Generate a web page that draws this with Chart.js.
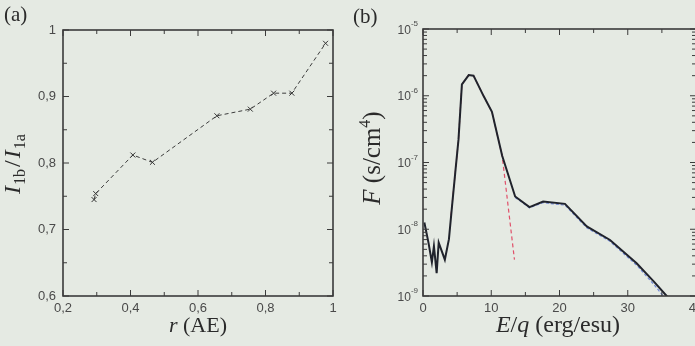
<!DOCTYPE html>
<html>
<head>
<meta charset="utf-8">
<script src="https://cdn.jsdelivr.net/npm/chart.js@4.4.0/dist/chart.umd.min.js"></script>
<style>
html, body { margin: 0; padding: 0; width: 695px; height: 346px; overflow: hidden; background: #e5eae3; }
#chartA { position: absolute; left: 0; top: 0; }
#chartB { position: absolute; left: 350px; top: 0; }
</style>
</head>
<body>
<canvas id="chartA" width="350" height="346"></canvas>
<canvas id="chartB" width="360" height="346"></canvas>
<script>
// panel (a): intensity ratio vs. distance
const radius = [0.292, 0.297, 0.407, 0.465, 0.656, 0.755, 0.824, 0.878, 0.978];
const intensityRatio = [0.745, 0.754, 0.812, 0.801, 0.871, 0.881, 0.905, 0.905, 0.980];
const radiusTicks = [0.2, 0.3, 0.4, 0.5, 0.6, 0.7, 0.8, 0.9, 1.0];
const radiusTickLabels = ['0,2', '', '0,4', '', '0,6', '', '0,8', '', '1'];
const ratioTicks = [0.6, 0.65, 0.7, 0.75, 0.8, 0.85, 0.9, 0.95, 1.0];
const ratioTickLabels = ['0,6', '', '0,7', '', '0,8', '', '0,9', '', '1'];

// panel (b): spectrum
const energy = [0.2, 0.8, 1.3, 1.6, 2.0, 2.3, 3.2, 3.8, 4.25, 4.73, 5.2, 5.7, 6.7, 7.4, 8.9, 10.1, 11.6, 13.5, 15.6, 17.6, 20.8, 24.0, 27.4, 31.3, 33.8, 35.7, 36.4];
const flux = [1.26e-8, 6.3e-9, 3.2e-9, 5.6e-9, 2.2e-9, 6.3e-9, 3.5e-9, 7.1e-9, 2.2e-8, 7.1e-8, 2.2e-7, 1.48e-6, 2.04e-6, 2.0e-6, 9.8e-7, 5.75e-7, 1.26e-7, 3.1e-8, 2.15e-8, 2.6e-8, 2.4e-8, 1.1e-8, 6.9e-9, 3.1e-9, 1.66e-9, 1.0e-9, 8.0e-10];
const fitEnergy = [4.1, 4.73, 5.2, 5.7, 6.7, 7.4, 8.9, 10.1, 11.6, 13.4];
const fitFlux = [1.6e-8, 7.1e-8, 2.2e-7, 1.48e-6, 2.04e-6, 2.0e-6, 9.8e-7, 5.75e-7, 1.26e-7, 3.5e-9];
const modelEnergy = [13.5, 15.6, 17.6, 20.8, 24.0, 27.4, 31.3, 33.8, 35.2];
const modelFlux = [3.0e-8, 2.1e-8, 2.5e-8, 2.3e-8, 1.05e-8, 6.6e-9, 2.9e-9, 1.5e-9, 1.0e-9];
const energyTicks = [0, 5, 10, 15, 20, 25, 30, 35, 40];
const energyTickLabels = ['0', '', '10', '', '20', '', '30', '', '40'];
const fluxTickExps = [-9, -8, -7, -6, -5];

const serif = '"Liberation Serif", "Times New Roman", serif';
const sans = '"Liberation Sans", Arial, sans-serif';
const ink = '#2b2b2b';
const tickFont = { family: sans, size: 13 };
const tickColor = '#4a4a4a';

function pts(xs, ys) {
    return xs.map(function(x, i) { return { x: x, y: ys[i] }; });
}

function drawRuns(ctx, runs, cx, y) {
    var w = 0;
    runs.forEach(function(r) { ctx.font = r.font; w += (r.dx || 0) + ctx.measureText(r.text).width; });
    var x = cx - w / 2;
    runs.forEach(function(r) {
        ctx.font = r.font;
        x += r.dx || 0;
        ctx.fillText(r.text, x, y + (r.dy || 0));
        x += ctx.measureText(r.text).width;
    });
}

// frame box and inward tick marks on all four sides
const framePlugin = {
    id: 'frame',
    afterDatasetsDraw(chart, args, opts) {
        const ctx = chart.ctx, a = chart.chartArea;
        ctx.save();
        ctx.strokeStyle = '#3b3b3b';
        ctx.lineWidth = 1;
        ctx.beginPath();
        opts.xTicks.forEach(function(t) {
            const x = chart.scales.x.getPixelForValue(t.v);
            const len = t.major ? 6 : 4;
            ctx.moveTo(x, a.bottom); ctx.lineTo(x, a.bottom - len);
            ctx.moveTo(x, a.top); ctx.lineTo(x, a.top + len);
        });
        opts.yTicks.forEach(function(t) {
            const y = chart.scales.y.getPixelForValue(t.v);
            const len = t.major ? 6 : 4;
            ctx.moveTo(a.left, y); ctx.lineTo(a.left + len, y);
            ctx.moveTo(a.right, y); ctx.lineTo(a.right - len, y);
        });
        ctx.stroke();
        ctx.lineWidth = 1.6;
        ctx.strokeRect(a.left, a.top, a.right - a.left, a.bottom - a.top);
        ctx.restore();
    }
};

// ---- panel (a)
new Chart(document.getElementById('chartA'), {
    type: 'scatter',
    data: {
        datasets: [{
            data: pts(radius, intensityRatio),
            showLine: true,
            borderColor: '#3c3c3c',
            borderWidth: 1,
            borderDash: [4, 3],
            pointStyle: 'crossRot',
            pointRadius: 3.5,
            pointBorderColor: '#333',
            pointBorderWidth: 1
        }]
    },
    options: {
        responsive: false,
        animation: false,
        layout: { padding: { left: 0, right: 17, top: 30, bottom: 0 } },
        plugins: {
            legend: { display: false },
            tooltip: { enabled: false },
            frame: {
                xTicks: radiusTicks.map(function(v, i) { return { v: v, major: radiusTickLabels[i] !== '' }; }),
                yTicks: ratioTicks.map(function(v, i) { return { v: v, major: ratioTickLabels[i] !== '' }; })
            }
        },
        scales: {
            x: {
                type: 'linear', min: 0.2, max: 1,
                afterBuildTicks: function(s) { s.ticks = radiusTicks.map(function(v) { return { value: v }; }); },
                afterFit: function(s) { s.height = 50; },
                grid: { display: false, drawTicks: false },
                border: { display: false },
                ticks: { autoSkip: false, maxRotation: 0, padding: 5, font: tickFont, color: tickColor,
                    callback: function(v, i) { return radiusTickLabels[i]; } }
            },
            y: {
                type: 'linear', min: 0.6, max: 1,
                afterBuildTicks: function(s) { s.ticks = ratioTicks.map(function(v) { return { value: v }; }); },
                afterFit: function(s) { s.width = 63; },
                grid: { display: false, drawTicks: false },
                border: { display: false },
                ticks: { autoSkip: false, padding: 7, font: tickFont, color: tickColor,
                    callback: function(v, i) { return ratioTickLabels[i]; } }
            }
        }
    },
    plugins: [framePlugin, {
        id: 'titlesA',
        afterDraw(chart) {
            const ctx = chart.ctx;
            ctx.save();
            ctx.fillStyle = ink;
            ctx.textAlign = 'left';
            ctx.textBaseline = 'alphabetic';
            ctx.font = '21px ' + serif;
            ctx.fillText('(a)', 4, 21);
            drawRuns(ctx, [
                { text: 'r', font: 'italic 22px ' + serif },
                { text: ' (AE)', font: '22px ' + serif }
            ], 198, 332);
            ctx.translate(20, 164);
            ctx.rotate(-Math.PI / 2);
            drawRuns(ctx, [
                { text: 'I', font: 'italic 24px ' + serif },
                { text: '1b', font: '16px ' + serif, dy: 5, dx: 1 },
                { text: '/', font: '24px ' + serif, dx: 2 },
                { text: 'I', font: 'italic 24px ' + serif, dx: 2 },
                { text: '1a', font: '16px ' + serif, dy: 5, dx: 1 }
            ], 0, 0);
            ctx.restore();
        }
    }]
});

// ---- panel (b)
const fluxMinor = [];
fluxTickExps.forEach(function(e) {
    for (var k = 1; k <= 9; k++) {
        if (e === -5 && k > 1) break;
        fluxMinor.push({ v: k * Math.pow(10, e), major: k === 1 });
    }
});

new Chart(document.getElementById('chartB'), {
    type: 'scatter',
    data: {
        datasets: [{
            data: pts(energy, flux),
            showLine: true,
            borderColor: '#20232c',
            borderWidth: 2,
            pointRadius: 0,
            order: 0
        }, {
            data: pts(modelEnergy, modelFlux),
            showLine: true,
            borderColor: '#6f86d6',
            borderWidth: 1.2,
            borderDash: [3, 2],
            pointRadius: 0,
            order: 1
        }, {
            data: pts(fitEnergy, fitFlux),
            showLine: true,
            borderColor: '#e0506a',
            borderWidth: 1.2,
            borderDash: [4, 3],
            pointRadius: 0,
            order: 2
        }]
    },
    options: {
        responsive: false,
        animation: false,
        layout: { padding: { left: 0, right: 14, top: 29, bottom: 0 } },
        plugins: {
            legend: { display: false },
            tooltip: { enabled: false },
            frame: {
                xTicks: energyTicks.map(function(v, i) { return { v: v, major: energyTickLabels[i] !== '' }; }),
                yTicks: fluxMinor
            }
        },
        scales: {
            x: {
                type: 'linear', min: 0, max: 40,
                afterBuildTicks: function(s) { s.ticks = energyTicks.map(function(v) { return { value: v }; }); },
                afterFit: function(s) { s.height = 50; },
                grid: { display: false, drawTicks: false },
                border: { display: false },
                ticks: { autoSkip: false, maxRotation: 0, padding: 5, font: tickFont, color: tickColor,
                    callback: function(v, i) { return energyTickLabels[i]; } }
            },
            y: {
                type: 'logarithmic', min: 1e-9, max: 1e-5,
                afterBuildTicks: function(s) { s.ticks = fluxTickExps.map(function(e) { return { value: Math.pow(10, e) }; }); },
                afterFit: function(s) { s.width = 73; },
                grid: { display: false, drawTicks: false },
                border: { display: false },
                ticks: { display: false }
            }
        }
    },
    plugins: [framePlugin, {
        id: 'titlesB',
        afterDraw(chart) {
            const ctx = chart.ctx, ys = chart.scales.y;
            ctx.save();
            ctx.fillStyle = tickColor;
            ctx.textBaseline = 'alphabetic';
            fluxTickExps.forEach(function(e) {
                const y = ys.getPixelForValue(Math.pow(10, e));
                ctx.font = '8px ' + sans;
                const sup = '-' + Math.abs(e);
                const sw = ctx.measureText(sup).width;
                ctx.textAlign = 'left';
                ctx.fillText(sup, 68 - sw, y - 3);
                ctx.textAlign = 'right';
                ctx.font = '12px ' + sans;
                ctx.fillText('10', 68 - sw, y + 4.5);
            });
            ctx.fillStyle = ink;
            ctx.textAlign = 'left';
            ctx.font = '21px ' + serif;
            ctx.fillText('(b)', 3, 23);
            drawRuns(ctx, [
                { text: 'E', font: 'italic 24px ' + serif },
                { text: '/', font: '24px ' + serif },
                { text: 'q', font: 'italic 24px ' + serif },
                { text: ' (erg/esu)', font: '24px ' + serif }
            ], 208, 332);
            ctx.translate(30, 158);
            ctx.rotate(-Math.PI / 2);
            drawRuns(ctx, [
                { text: 'F', font: 'italic 25px ' + serif },
                { text: ' (s/cm', font: '25px ' + serif },
                { text: '4', font: '16px ' + serif, dy: -10 },
                { text: ')', font: '25px ' + serif }
            ], 0, 0);
            ctx.restore();
        }
    }]
});
</script>
</body>
</html>
